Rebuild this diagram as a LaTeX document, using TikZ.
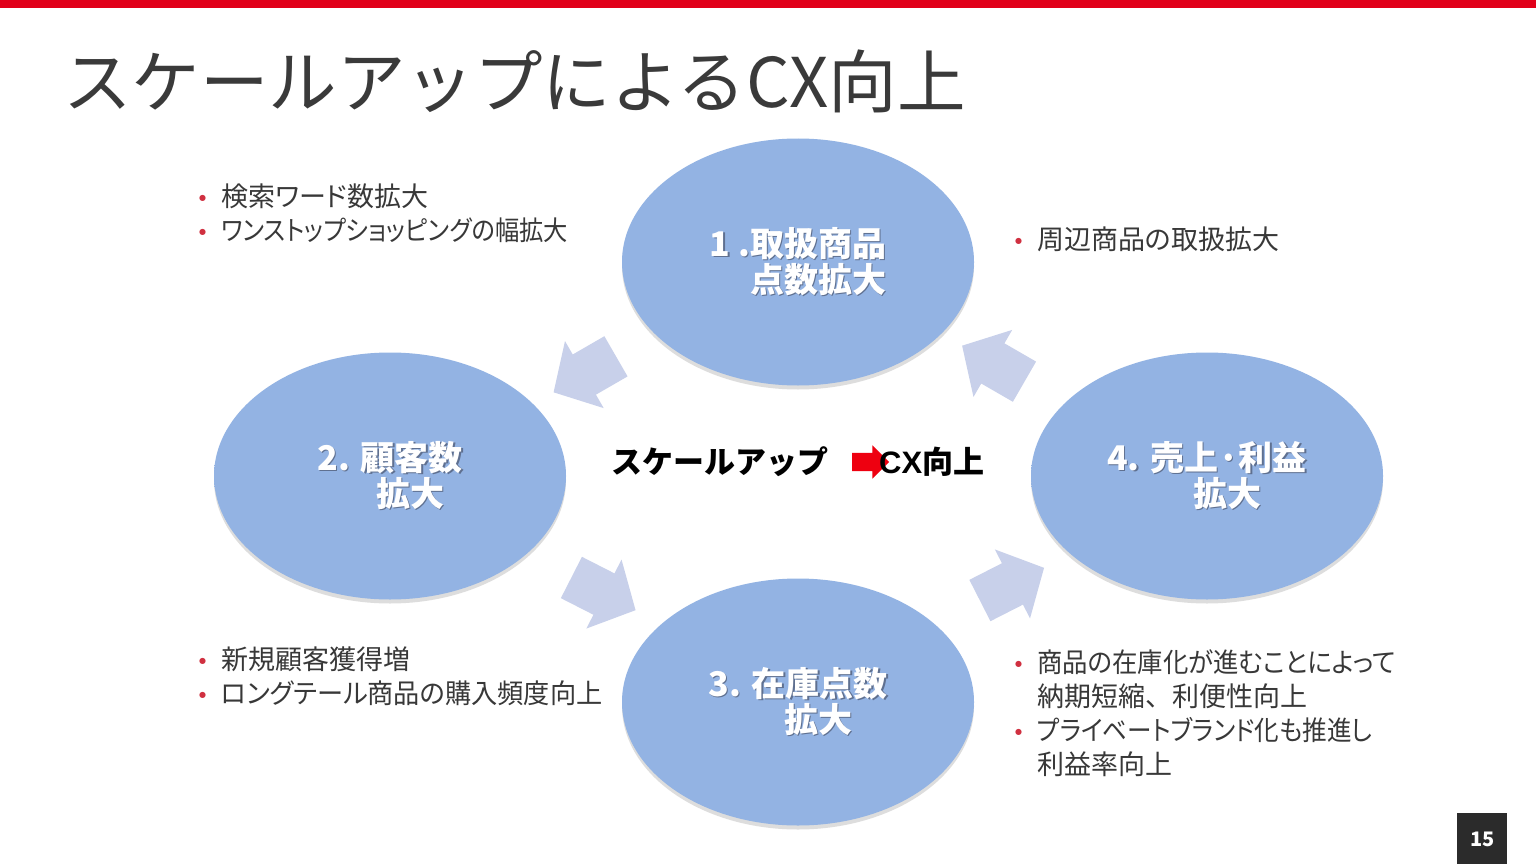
\documentclass[tikz,border=0pt]{standalone}
\usepackage{fontspec}
\usetikzlibrary{shapes.geometric,shapes.arrows,shadows,calc}
\setmainfont{Noto Sans CJK JP}
\newfontfamily\jpp{Noto Sans CJK JP}[RawFeature=+palt]
\newfontfamily\dejavu{DejaVu Sans}
\newfontfamily\libsans{Liberation Sans}
\definecolor{redbar}{HTML}{E1001A}
\definecolor{ttl}{HTML}{3A3A3A}
\definecolor{bodyc}{HTML}{383838}
\definecolor{bulc}{HTML}{D03040}
\definecolor{ellin}{HTML}{93B3E3}
\definecolor{ellout}{HTML}{7090C8}
\definecolor{arrc}{HTML}{C8D0EA}
\definecolor{shdc}{HTML}{5F7090}
\definecolor{redarr}{HTML}{EE0010}
\definecolor{pgbox}{HTML}{2B2B2B}
\pgfdeclareradialshading{ellshade}{\pgfpoint{0bp}{0bp}}{color(0bp)=(ellin); color(34bp)=(ellin); color(49bp)=(ellout); color(100bp)=(ellout)}
\newcommand\shd[1]{\makebox[0pt][l]{\hspace{1.5pt}\raisebox{-1.5pt}{\textcolor{shdc}{#1}}}#1}
\newcommand\bul{\raisebox{6pt}{\textcolor{bulc}{\fontsize{8}{8}\selectfont\dejavu ●}}}
\newcommand\sq[2]{\scalebox{#1}[1]{#2}}
\tikzset{
  ell/.style={ellipse, minimum width=352pt, minimum height=247pt, inner sep=0pt,
    shading=ellshade, draw=none,
    drop shadow={shadow xshift=0pt, shadow yshift=-4pt, opacity=0.22, fill=black!60},
    align=center, text=white, font=\fontsize{34}{36}\selectfont\bfseries},
  flow/.style={single arrow, fill=arrc, minimum height=72pt, inner xsep=0pt, inner ysep=23pt,
    single arrow head extend=15.5pt, single arrow tip angle=95},
  bullets/.style={anchor=west, inner sep=0pt, text=bodyc, font=\fontsize{27}{34}\selectfont\jpp},
}
\begin{document}
\begin{tikzpicture}[x=1pt,y=-1pt]
\path[use as bounding box] (0,0) rectangle (1536,864);
\fill[white] (0,0) rectangle (1536,864);
\fill[redbar] (0,0) rectangle (1536,8);
\node[anchor=base west, inner sep=0pt, text=ttl, font=\fontsize{68.5}{70}\selectfont] (title) at (63,108) {スケールアップによるCX向上};

\node[ell] (e1) at (798,262) {\shd{1 .取扱商品}\\\hspace*{40pt}\shd{点数拡大}};
\node[ell] (e2) at (390,476) {\shd{2. 顧客数}\\\hspace*{40pt}\shd{拡大}};
\node[ell] (e3) at (798,702) {\shd{3. 在庫点数}\\\hspace*{40pt}\shd{拡大}};
\node[ell] (e4) at (1207,476) {\shd{4. 売上·利益}\\\hspace*{40pt}\shd{拡大}};

\node[flow, rotate=210] (a12) at ($(e1)!0.5!(e2)$) {};
\node[flow, rotate=333] (a23) at ($(e2)!0.5!(e3)$) {};
\node[flow, rotate=27] (a34) at ($(e3)!0.5!(e4)$) {};
\node[flow, rotate=150] (a41) at ($(e4)!0.5!(e1)$) {};

\node[anchor=west, inner sep=0pt, font=\fontsize{31}{33}\selectfont\bfseries] (scale) at (611,462) {スケールアップ};
\node[single arrow, fill=redarr, minimum height=37pt, inner xsep=0pt, inner ysep=9pt, single arrow head extend=7.5pt] (redarrow) at (866,462) {};
\node[anchor=west, inner sep=0pt, font=\fontsize{31}{33}\selectfont\bfseries] (cx) at (879,462) {{\libsans CX}向上};

\node[bullets] (tl) at (199,217) {\begin{tabular}{@{}l@{\hspace{15pt}}l@{}}\bul & 検索ワード数拡大\\ \bul & \sq{0.90}{ワンストップショッピングの幅拡大}\end{tabular}};
\node[bullets] (tr) at (1015,243) {\begin{tabular}{@{}l@{\hspace{15pt}}l@{}}\bul & 周辺商品の取扱拡大\end{tabular}};
\node[bullets] (bl) at (199,680) {\begin{tabular}{@{}l@{\hspace{15pt}}l@{}}\bul & 新規顧客獲得増\\ \bul & \sq{0.97}{ロングテール商品の購入頻度向上}\end{tabular}};
\node[bullets] (br) at (1015,717) {\begin{tabular}{@{}l@{\hspace{15pt}}l@{}}\bul & \sq{0.94}{商品の在庫化が進むことによって}\\ & 納期短縮{\rmfamily 、}利便性向上\\ \bul & \sq{0.91}{プライベートブランド化も推進し}\\ & 利益率向上\end{tabular}};

\node[anchor=north west, fill=pgbox, minimum width=50pt, minimum height=52pt, inner sep=0pt, text=white, font=\fontsize{20}{20}\selectfont\bfseries] (page) at (1457,813) {15};
\end{tikzpicture}
\end{document}
